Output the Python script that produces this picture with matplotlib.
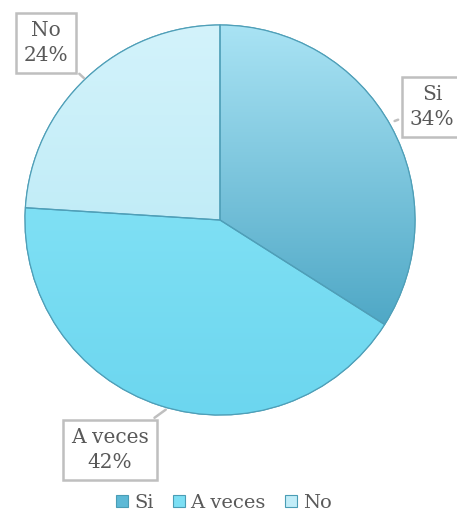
import matplotlib.pyplot as plt
import numpy as np
from matplotlib.colors import LinearSegmentedColormap
from matplotlib.patches import Wedge

plt.rcParams['font.family'] = ['DejaVu Serif']

labels = ['Si', 'A veces', 'No']
values = [34, 42, 24]
top_colors = ['#A9E3F4', '#90E9F9', '#D3F3FB']
bottom_colors = ['#3496B8', '#6CD6EF', '#B0E6F4']
mid_colors = ['#5DB9D6', '#7CDFF4', '#C2EDF8']

# posiciones de las etiquetas (pixeles, y hacia arriba)
label_pos = [(432, 407), (110, 64), (46, 471)]
arrow_pos = [(392, 392), (168, 106), (86, 434)]

fig = plt.figure(figsize=(4.57, 5.14), dpi=100)
ax = fig.add_axes([0, 0, 1, 1])

cx, cy, r = 220, 294, 195
wedges, _ = ax.pie(values, colors=mid_colors, startangle=90, counterclock=False,
                   center=(cx, cy), radius=r, frame=True,
                   wedgeprops=dict(edgecolor='#4A9DB5', linewidth=0.8))

# relleno degradado de cada sector
grad = np.linspace(0, 1, 256).reshape(-1, 1)
for w, c1, c2 in zip(wedges, top_colors, bottom_colors):
    cmap = LinearSegmentedColormap.from_list('g', [c2, c1])
    im = ax.imshow(grad, cmap=cmap, extent=(cx - r, cx + r, cy - r, cy + r),
                   origin='lower', aspect='auto', zorder=w.get_zorder() + 0.1)
    im.set_clip_path(w)
    ax.add_patch(Wedge(w.center, w.r, w.theta1, w.theta2, fill=False,
                       edgecolor='#4F9FB8', lw=0.9, zorder=w.get_zorder() + 0.2))

ax.set_xlim(0, 457)
ax.set_ylim(0, 514)
ax.set_aspect('equal')
ax.axis('off')

for lab, val, pos, ap in zip(labels, values, label_pos, arrow_pos):
    ax.annotate(f'{lab}\n{val}%', xy=ap, xytext=pos, ha='center', va='center',
                fontsize=14.5, color='#595959', linespacing=1.35, zorder=5,
                bbox=dict(boxstyle='square,pad=0.4', fc='white', ec='#BFBFBF', lw=1.8),
                arrowprops=dict(arrowstyle='-', color='#BFBFBF', lw=1.8))

ax.legend(wedges, labels, loc='lower center', bbox_to_anchor=(0.49, -0.03), ncol=3,
          frameon=False, fontsize=14, handlelength=0.6, handleheight=0.6,
          handletextpad=0.3, columnspacing=1.0, labelcolor='#595959')

plt.savefig('out.png')
